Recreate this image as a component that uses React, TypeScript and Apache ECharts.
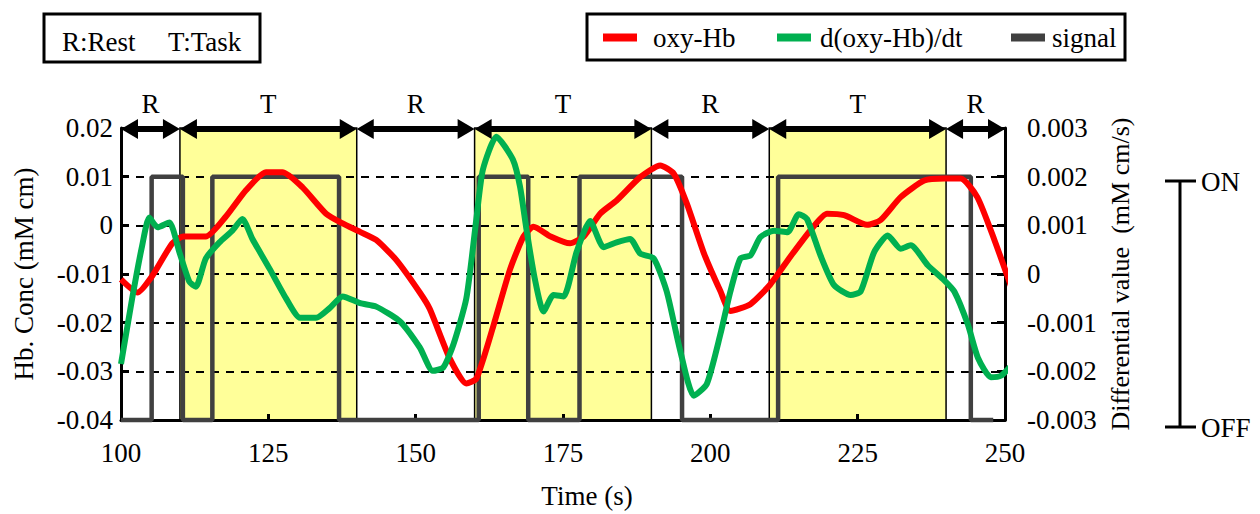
import React, { useEffect, useRef } from 'react';
import * as echarts from 'echarts';

// ---- data ----
const oxyTime = [100, 102.8, 105.3, 108.7, 110.6, 114.4, 117.8, 121.2, 124.6, 127.4, 130.8, 134.8, 137.6, 140.5, 143.3, 146.7, 150.7, 152.4, 155.8, 158.6, 160.3, 163.2, 166, 168.3, 170, 172.9, 176.2, 178.5, 181.3, 184.1, 188.1, 191.5, 193.8, 196, 198.9, 201.7, 203.4, 206.8, 210.2, 213.6, 217, 219.8, 222.7, 226.6, 228.9, 232.3, 236.3, 239.7, 242.5, 245.3, 248.2, 251.3];
const oxyHb = [-0.0111, -0.0138, -0.0104, -0.0037, -0.0023, -0.0023, 0.0018, 0.0072, 0.0109, 0.0109, 0.0078, 0.0024, 0.0004, -0.0013, -0.003, -0.0071, -0.0138, -0.0172, -0.0274, -0.0325, -0.0315, -0.0206, -0.0091, -0.0023, -0.0003, -0.0023, -0.0037, -0.0023, 0.0024, 0.0051, 0.0099, 0.0123, 0.0106, 0.0045, -0.0057, -0.0135, -0.0176, -0.0162, -0.0121, -0.0064, -0.001, 0.0024, 0.0021, 0.0001, 0.0011, 0.0058, 0.0092, 0.0096, 0.0096, 0.0058, -0.003, -0.0135];

const diffTime = [100, 101.9, 103.6, 104.8, 106.2, 108.2, 109.9, 111.6, 112.7, 114.4, 116.7, 118.9, 120.6, 122.3, 125.2, 128, 130.4, 133.1, 135.4, 137.6, 140.6, 143.3, 147.3, 150.7, 152.9, 154.7, 156.4, 158.6, 160.3, 161.4, 163.7, 166.5, 167.7, 168.8, 170.2, 171.7, 173.4, 175.1, 177.3, 179.6, 181.9, 184.1, 186.4, 188.1, 190.4, 192.6, 194.9, 197.2, 199.4, 201.7, 203.4, 205.1, 206.8, 208.5, 210.8, 213.1, 215, 216.4, 218.7, 221, 223.8, 225.5, 227.8, 230.1, 232.3, 234, 236.9, 239.7, 241.4, 243.7, 245.4, 247.6, 249.3, 251.3];
const dOxyHb = [-0.00185, -0.0005, 0.00059, 0.00116, 0.00096, 0.00106, 0.00045, -0.00016, -0.00026, 0.00032, 0.00065, 0.00089, 0.00113, 0.00072, 0.00011, -0.0005, -0.0009, -0.0009, -0.0007, -0.00046, -0.0006, -0.00067, -0.00097, -0.00151, -0.00199, -0.00192, -0.00145, -0.0005, 0.00113, 0.00214, 0.00282, 0.00235, 0.0018, 0.00092, -0.00009, -0.00077, -0.00043, -0.00046, 0.00045, 0.00109, 0.00055, 0.00065, 0.00072, 0.00042, 0.00032, -0.00036, -0.00158, -0.0025, -0.00226, -0.00124, -0.00036, 0.00032, 0.00038, 0.00076, 0.00089, 0.00086, 0.00123, 0.00113, 0.00038, -0.00023, -0.00043, -0.00036, 0.00045, 0.00079, 0.00052, 0.00059, 0.00018, -0.00013, -0.00036, -0.00104, -0.00172, -0.00212, -0.00209, -0.00185];

const signalTimes = [100, 105.2, 110.5, 115.5, 137, 160.7, 169.1, 177.8, 195.2, 211.5, 244.2, 248];
const signalStates = [0, 1, 0, 1, 0, 1, 0, 1, 0, 1, 0, 0];
const signalOn = 0.01;
const signalOff = -0.04;

const periodStarts = [100, 110, 140, 160, 190, 210, 240];
const periodEnds = [110, 140, 160, 190, 210, 240, 250];
const periodLabels = ['R', 'T', 'R', 'T', 'R', 'T', 'R'];

const xMin = 100, xMax = 250, xStep = 25;
const hbMin = -0.04, hbMax = 0.02, hbStep = 0.01;
const dMin = -0.003, dMax = 0.003, dStep = 0.001;
const gridLevels = [0.01, 0, -0.01, -0.02, -0.03];

const FONT = 'Liberation Serif';
const RED = '#FF0000';
const GREEN = '#00B050';
const GRAY = '#404040';

function buildOption(): any {
  const oxyData = oxyTime.map((t, i) => [t, oxyHb[i]]);
  const diffData = diffTime.map((t, i) => [t, dOxyHb[i]]);
  const signalData = signalTimes.map((t, i) => [t, signalStates[i] ? signalOn : signalOff]);
  const periodData = periodStarts.map((s, i) => [s, periodEnds[i], hbMax]);
  const taskAreas = periodStarts
    .map((s, i) => ({ s, e: periodEnds[i], l: periodLabels[i] }))
    .filter((p) => p.l === 'T')
    .map((p) => [{ xAxis: p.s }, { xAxis: p.e }]);

  const legendCommon = {
    padding: 0,
    itemWidth: 34,
    itemHeight: 8,
    icon: 'rect',
    selectedMode: false,
    top: 24,
  };

  return {
    animation: false,
    backgroundColor: '#fff',
    textStyle: { fontFamily: FONT, fontSize: 27, color: '#000' },
    grid: { left: 121, right: 255, top: 128, bottom: 91, containLabel: false },
    legend: [
      { ...legendCommon, left: 603, data: ['oxy-Hb'], textStyle: { fontFamily: FONT, fontSize: 27, color: '#000', padding: [0, 0, 0, 11] } },
      { ...legendCommon, left: 777, data: ['d(oxy-Hb)/dt'], textStyle: { fontFamily: FONT, fontSize: 27, color: '#000', padding: [0, 0, 0, 4] } },
      { ...legendCommon, left: 1011, data: ['signal'], textStyle: { fontFamily: FONT, fontSize: 27, color: '#000', padding: [0, 0, 0, 2] } },
    ],
    xAxis: {
      type: 'value',
      min: xMin,
      max: xMax,
      interval: xStep,
      z: 1.2,
      name: 'Time (s)',
      nameLocation: 'middle',
      nameGap: 62,
      nameTextStyle: { fontFamily: FONT, fontSize: 27, color: '#000', padding: [0, 0, 0, 48] },
      axisLine: { show: true, onZero: false, lineStyle: { color: '#000', width: 3 } },
      axisTick: { show: true, inside: true, length: 6, lineStyle: { color: '#000', width: 3 } },
      axisLabel: { margin: 19, fontFamily: FONT, fontSize: 27, color: '#000' },
      splitLine: { show: false },
    },
    yAxis: [
      {
        type: 'value',
        position: 'left',
        min: hbMin,
        max: hbMax,
        interval: hbStep,
        z: 1.2,
        name: 'Hb. Conc (mM cm)',
        nameLocation: 'middle',
        nameRotate: 90,
        nameGap: 84,
        nameTextStyle: { fontFamily: FONT, fontSize: 27, color: '#000' },
        axisLine: { show: true, onZero: false, lineStyle: { color: '#000', width: 3 } },
        axisTick: { show: true, inside: true, length: 8, lineStyle: { color: '#000', width: 3 } },
        axisLabel: { margin: 8, fontFamily: FONT, fontSize: 27, color: '#000' },
        splitLine: { show: false },
      },
      {
        type: 'value',
        position: 'right',
        min: dMin,
        max: dMax,
        interval: dStep,
        z: 1.2,
        name: 'Differential value  (mM cm/s)',
        nameLocation: 'middle',
        nameRotate: 90,
        nameGap: 94,
        nameTextStyle: { fontFamily: FONT, fontSize: 26, color: '#000' },
        axisLine: { show: true, onZero: false, lineStyle: { color: '#000', width: 3 } },
        axisTick: { show: true, inside: true, length: 8, lineStyle: { color: '#000', width: 3 } },
        axisLabel: { margin: 22, fontFamily: FONT, fontSize: 27, color: '#000' },
        splitLine: { show: false },
      },
    ],
    graphic: [
      { type: 'rect', shape: { x: 44, y: 14, width: 216, height: 48 }, style: { fill: '#fff', stroke: '#000', lineWidth: 3 } },
      { type: 'text', x: 62, y: 42, style: { text: 'R:Rest', fontFamily: FONT, fontSize: 27, fill: '#000', verticalAlign: 'middle' } },
      { type: 'text', x: 168, y: 42, style: { text: 'T:Task', fontFamily: FONT, fontSize: 27, fill: '#000', verticalAlign: 'middle' } },
      { type: 'rect', shape: { x: 587, y: 14, width: 538, height: 46 }, style: { fill: '#fff', stroke: '#000', lineWidth: 3 } },
      { type: 'line', shape: { x1: 1180, y1: 181, x2: 1180, y2: 427 }, style: { stroke: '#000', lineWidth: 3 } },
      { type: 'line', shape: { x1: 1165, y1: 181, x2: 1196, y2: 181 }, style: { stroke: '#000', lineWidth: 3 } },
      { type: 'line', shape: { x1: 1165, y1: 427, x2: 1196, y2: 427 }, style: { stroke: '#000', lineWidth: 3 } },
      { type: 'text', x: 1201, y: 182, style: { text: 'ON', fontFamily: FONT, fontSize: 27, fill: '#000', verticalAlign: 'middle' } },
      { type: 'text', x: 1201, y: 428, style: { text: 'OFF', fontFamily: FONT, fontSize: 27, fill: '#000', verticalAlign: 'middle' } },
    ],
    series: [
      {
        name: 'signal',
        type: 'line',
        yAxisIndex: 0,
        data: signalData,
        step: 'end',
        showSymbol: false,
        clip: false,
        z: 2.5,
        color: GRAY,
        itemStyle: { color: GRAY },
        lineStyle: { color: GRAY, width: 4.5 },
        markArea: {
          silent: true,
          z: 1,
          itemStyle: { color: '#FFFF99', borderColor: '#000', borderWidth: 1.5 },
          data: taskAreas,
        },
        markLine: {
          silent: true,
          z: 1.5,
          symbol: 'none',
          label: { show: false },
          lineStyle: { color: '#000', width: 2, type: [8, 7] },
          data: gridLevels.map((v) => ({ yAxis: v })),
        },
      },
      {
        name: 'oxy-Hb',
        type: 'line',
        yAxisIndex: 0,
        data: oxyData,
        smooth: 0.2,
        showSymbol: false,
        clip: false,
        z: 3,
        color: RED,
        itemStyle: { color: RED },
        lineStyle: { color: RED, width: 6 },
      },
      {
        name: 'd(oxy-Hb)/dt',
        type: 'line',
        yAxisIndex: 1,
        data: diffData,
        smooth: 0.2,
        showSymbol: false,
        clip: false,
        z: 3,
        color: GREEN,
        itemStyle: { color: GREEN },
        lineStyle: { color: GREEN, width: 6 },
      },
      {
        name: 'periods',
        type: 'custom',
        yAxisIndex: 0,
        clip: false,
        z: 4,
        silent: true,
        encode: { x: [0, 1], y: 2 },
        data: periodData,
        renderItem: (params: any, api: any) => {
          const p1 = api.coord([api.value(0), api.value(2)]);
          const p2 = api.coord([api.value(1), api.value(2)]);
          const y = p1[1] + 1;
          const L = 17, H = 10;
          return {
            type: 'group',
            children: [
              { type: 'line', shape: { x1: p1[0] + L - 2, y1: y, x2: p2[0] - L + 2, y2: y }, style: { stroke: '#000', lineWidth: 6 } },
              { type: 'polygon', shape: { points: [[p1[0], y], [p1[0] + L, y - H], [p1[0] + L, y + H]] }, style: { fill: '#000' } },
              { type: 'polygon', shape: { points: [[p2[0], y], [p2[0] - L, y - H], [p2[0] - L, y + H]] }, style: { fill: '#000' } },
              {
                type: 'text',
                x: (p1[0] + p2[0]) / 2,
                y: y - 25,
                style: { text: periodLabels[params.dataIndex], fontFamily: FONT, fontSize: 27, fill: '#000', align: 'center', verticalAlign: 'middle' },
              },
            ],
          };
        },
      },
    ],
  };
}

export default function App() {
  const ref = useRef<HTMLDivElement>(null);
  useEffect(() => {
    if (!ref.current) return;
    const chart = echarts.init(ref.current, null, { renderer: 'svg' });
    chart.setOption(buildOption());
    return () => chart.dispose();
  }, []);
  return (
    <div
      ref={ref}
      style={{ position: 'fixed', left: 0, top: 0, width: 1260, height: 514, background: '#fff' }}
    />
  );
}
